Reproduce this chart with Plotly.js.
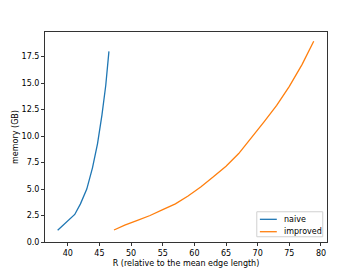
<!DOCTYPE html>
<html><head><meta charset="utf-8">
<script src="https://cdn.plot.ly/plotly-3.0.1.min.js"></script>
<style>html,body{margin:0;padding:0;background:#fff}#c{width:363px;height:272px}</style>
</head><body><div id="c"></div>
<script>
const naiveR = [38.4, 39.7, 41.1, 42.0, 43.0, 43.9, 44.7, 45.4, 46.0, 46.5];
const naiveMem = [1.1, 1.8, 2.6, 3.6, 5.0, 7.0, 9.3, 12.0, 14.8, 18.0];
const improvedR = [47.3, 49, 51, 53, 55, 57, 59, 61, 63, 65, 67, 69, 71, 73, 75, 77, 78.85];
const improvedMem = [1.13, 1.6, 2.05, 2.5, 3.05, 3.6, 4.35, 5.2, 6.15, 7.15, 8.35, 9.8, 11.35, 12.9, 14.7, 16.75, 18.95];
const xTicks = [40, 45, 50, 55, 60, 65, 70, 75, 80];
const yTicks = [0, 2.5, 5, 7.5, 10, 12.5, 15, 17.5];
const yTickText = ["0.0", "2.5", "5.0", "7.5", "10.0", "12.5", "15.0", "17.5"];
const seriesNames = ["naive", "improved"];
const seriesColors = ["#1f77b4", "#ff7f0e"];

const font = {family: "DejaVu Sans", size: 8, color: "#000"};
const axisBase = {
  showline: true, mirror: true, linecolor: "#333", linewidth: 1,
  ticks: "outside", ticklen: 3, tickwidth: 1, tickcolor: "#333",
  showgrid: false, zeroline: false, tickfont: font
};

// legend drawn in paper coordinates (matplotlib-style compact legend)
const legY = [0.108, 0.049];
const shapes = [{type: "rect", xref: "paper", yref: "paper", x0: 0.751, x1: 0.985, y0: 0.025, y1: 0.144,
  line: {color: "#d0d0d0", width: 1}, fillcolor: "rgba(255,255,255,0.8)"}];
const annotations = [];
seriesNames.forEach((n, i) => {
  shapes.push({type: "line", xref: "paper", yref: "paper", x0: 0.762, x1: 0.822, y0: legY[i], y1: legY[i],
    line: {color: seriesColors[i], width: 1.3}});
  annotations.push({xref: "paper", yref: "paper", x: 0.839, y: legY[i], xanchor: "left", yanchor: "middle",
    text: n, showarrow: false, font: font});
});

Plotly.newPlot("c", [
  {x: naiveR, y: naiveMem, type: "scatter", mode: "lines", name: seriesNames[0],
   line: {color: seriesColors[0], width: 1.3}},
  {x: improvedR, y: improvedMem, type: "scatter", mode: "lines", name: seriesNames[1],
   line: {color: seriesColors[1], width: 1.3}}
], {
  width: 363, height: 272,
  margin: {l: 45, r: 36, t: 32, b: 30},
  paper_bgcolor: "#fff", plot_bgcolor: "#fff",
  font: font,
  showlegend: false,
  shapes: shapes,
  annotations: annotations,
  xaxis: Object.assign({}, axisBase, {
    range: [36.4, 80.95], tickvals: xTicks,
    title: {text: "R (relative to the mean edge length)", font: font, standoff: 3}
  }),
  yaxis: Object.assign({}, axisBase, {
    range: [0, 19.83], tickvals: yTicks, ticktext: yTickText,
    title: {text: "memory (GB)", font: font, standoff: 1}
  })
}, {displayModeBar: false, staticPlot: true});
</script></body></html>
